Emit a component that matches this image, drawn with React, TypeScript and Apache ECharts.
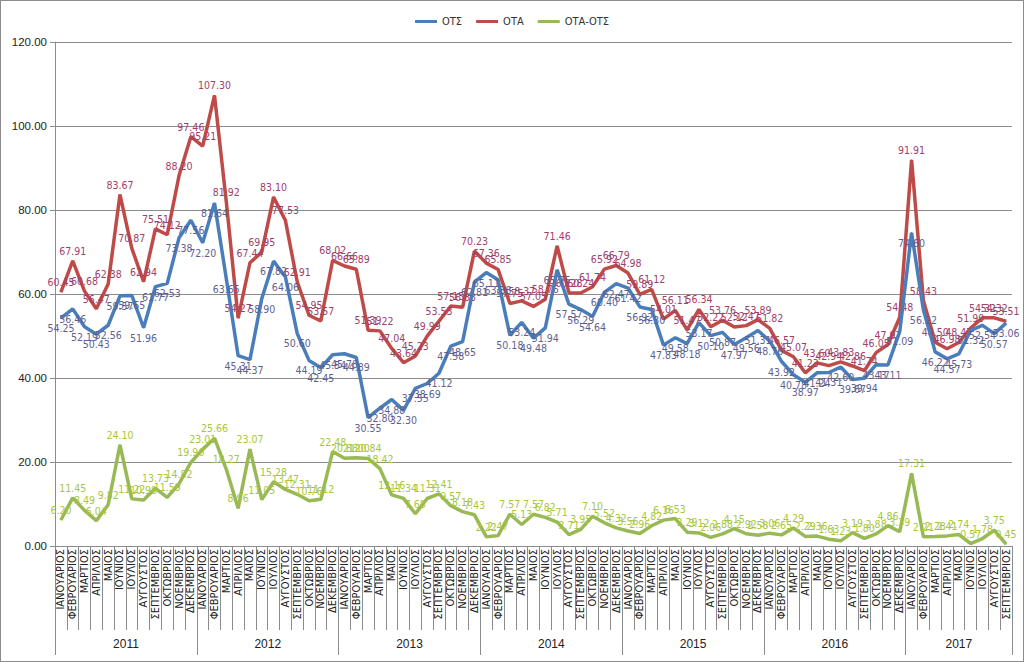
import React, { useEffect, useRef } from 'react';
import * as echarts from 'echarts';

const years = ['2011', '2012', '2013', '2014', '2015', '2016', '2017'];
const monthsPerYear = [12, 12, 12, 12, 12, 12, 9];
const monthNames = [
  'ΙΑΝΟΥΑΡΙΟΣ', 'ΦΕΒΡΟΥΑΡΙΟΣ', 'ΜΑΡΤΙΟΣ', 'ΑΠΡΙΛΙΟΣ', 'ΜΑΙΟΣ', 'ΙΟΥΝΙΟΣ',
  'ΙΟΥΛΙΟΣ', 'ΑΥΓΟΥΣΤΟΣ', 'ΣΕΠΤΕΜΒΡΙΟΣ', 'ΟΚΤΩΒΡΙΟΣ', 'ΝΟΕΜΒΡΙΟΣ', 'ΔΕΚΕΜΒΡΙΟΣ',
];

const seriesNames = ['ΟΤΣ', 'ΟΤΑ', 'ΟΤΑ-ΟΤΣ'];

const ots = [
  54.25, 56.46, 52.19, 50.43, 52.56, 59.57, 59.65, 51.96, 61.77, 62.53, 73.38, 77.56,
  72.20, 81.64, 63.65, 45.31, 44.37, 58.90, 67.82, 64.06, 50.60, 44.19, 42.45, 45.54,
  45.78, 44.89, 30.55, 32.80, 34.88, 32.30, 37.55, 38.69, 41.12, 47.58, 48.65, 62.81,
  65.11, 63.38, 50.18, 53.24, 49.48, 51.94, 65.75, 57.57, 56.29, 54.64, 60.40, 62.47,
  61.42, 56.92, 56.30, 47.83, 49.58, 48.18, 53.17, 50.10, 50.87, 47.97, 49.56, 51.31,
  48.76, 43.92, 40.78, 38.97, 41.24, 41.31, 42.60, 39.67, 39.94, 43.17, 43.11, 51.09,
  74.60, 56.22, 46.22, 44.57, 45.73, 51.32, 52.54, 50.57, 53.06,
];

const ota = [
  60.45, 67.91, 60.68, 56.47, 62.38, 83.67, 70.87, 62.94, 75.51, 74.12, 88.20, 97.46,
  95.21, 107.30, 81.92, 54.27, 67.44, 69.95, 83.10, 77.53, 62.91, 54.95, 53.57, 68.02,
  66.66, 65.89, 51.39, 51.22, 47.04, 43.64, 45.23, 49.99, 53.53, 57.15, 56.83, 70.23,
  67.36, 65.85, 57.75, 58.37, 57.05, 58.76, 71.46, 60.28, 60.24, 61.74, 65.92, 66.79,
  64.98, 59.89, 61.12, 54.01, 56.11, 51.47, 56.34, 52.22, 53.76, 52.12, 52.47, 53.89,
  51.82, 46.57, 45.07, 41.23, 43.60, 42.94, 43.83, 42.86, 41.74, 46.05, 47.97, 54.48,
  91.91, 58.43, 48.50, 46.98, 48.47, 51.90, 54.32, 54.32, 53.51,
];

const diff = [
  6.20, 11.45, 8.49, 6.04, 9.82, 24.10, 11.22, 10.98, 13.73, 11.59, 14.82, 19.90,
  23.01, 25.66, 18.27, 8.96, 23.07, 11.05, 15.28, 13.47, 12.31, 10.76, 11.12, 22.48,
  20.88, 21.00, 20.84, 18.42, 12.16, 11.34, 7.68, 11.31, 12.41, 9.57, 8.18, 7.43,
  2.22, 2.47, 7.57, 5.13, 7.57, 6.82, 5.71, 2.71, 3.95, 7.10, 5.52, 4.32,
  3.56, 2.96, 4.82, 6.16, 6.53, 3.29, 3.12, 2.06, 2.88, 4.15, 2.92, 2.58,
  3.06, 2.65, 4.29, 2.29, 2.36, 1.63, 1.23, 3.19, 1.80, 2.88, 4.86, 3.39,
  17.31, 2.21, 2.28, 2.41, 2.74, 0.57, 1.78, 3.75, 0.45,
];

const yMin = 0;
const yMax = 120;
const yInterval = 20;

const lineColors = ['#4a7ebb', '#be4b48', '#98b954'];
const labelColors = ['#5f5f8f', '#a0406a', '#a8c63a'];

const narrow = "'Liberation Sans Narrow', 'Arial Narrow', 'DejaVu Sans Condensed', sans-serif";
const sans = "'Liberation Sans', Arial, sans-serif";

export default function App() {
  const ref = useRef<HTMLDivElement>(null);

  useEffect(() => {
    if (!ref.current) return;
    const chart = echarts.init(ref.current, null, { renderer: 'svg' });

    const categories: string[] = [];
    const monthLabels: string[] = [];
    const yearStarts: number[] = [];
    const yearLabelAt: Record<number, { text: string; even: boolean }> = {};
    let idx = 0;
    years.forEach((y, yi) => {
      const n = monthsPerYear[yi];
      yearStarts.push(idx);
      for (let m = 0; m < n; m++) {
        categories.push(`${y}-${m + 1}`);
        monthLabels.push(monthNames[m]);
      }
      const center = idx + Math.floor((n - 1) / 2);
      yearLabelAt[center] = { text: y, even: n % 2 === 0 };
      idx += n;
    });
    const total = categories.length;

    const mkSeries = (name: string, data: number[], i: number, pos: 'top' | 'bottom') => ({
      name,
      type: 'line',
      data,
      symbol: 'circle',
      symbolSize: 1,
      showSymbol: true,
      lineStyle: { color: lineColors[i], width: 3.5 },
      itemStyle: { color: lineColors[i] },
      label: {
        show: true,
        position: pos,
        distance: 4,
        color: labelColors[i],
        fontFamily: narrow,
        fontSize: 10.5,
        formatter: (p: any) => Number(p.value).toFixed(2),
      },
      emphasis: { disabled: true },
      z: 3 - i,
    });

    chart.setOption({
      animation: false,
      backgroundColor: '#ffffff',
      legend: {
        top: 10,
        left: 'center',
        itemWidth: 22,
        itemHeight: 3,
        itemGap: 14,
        icon: 'rect',
        textStyle: { fontFamily: narrow, fontSize: 11, color: '#333' },
        data: seriesNames.map((n, i) => ({ name: n, itemStyle: { color: lineColors[i] } })),
      },
      grid: {
        left: 54,
        right: 11,
        top: 41,
        bottom: 115,
        outerBoundsMode: 'none',
      },
      xAxis: [
        {
          type: 'category',
          data: categories,
          boundaryGap: true,
          axisLine: { show: true, lineStyle: { color: '#8c8c8c', width: 1 } },
          axisTick: { show: true, interval: 0, length: 84, lineStyle: { color: '#8c8c8c' } },
          axisLabel: {
            interval: 0,
            rotate: 90,
            margin: 3,
            fontFamily: narrow,
            fontSize: 11,
            color: '#222',
            formatter: (_v: string, i: number) => monthLabels[i],
          },
        },
        {
          type: 'category',
          data: categories,
          position: 'bottom',
          offset: 0,
          boundaryGap: true,
          axisLine: { show: false },
          axisTick: {
            show: true,
            length: 109,
            lineStyle: { color: '#8c8c8c' },
            interval: (i: number) => yearStarts.includes(i) || i === total,
          },
          axisLabel: {
            show: true,
            margin: 92,
            fontFamily: sans,
            fontSize: 12,
            color: '#222',
            interval: (i: number) => yearLabelAt[i] !== undefined,
            formatter: (_v: string, i: number) => {
              const y = yearLabelAt[i];
              if (!y) return '';
              return y.even ? `{e|${y.text}}` : `{o|${y.text}}`;
            },
            rich: {
              e: { fontFamily: sans, fontSize: 12, color: '#222', padding: [0, 0, 0, 12] },
              o: { fontFamily: sans, fontSize: 12, color: '#222' },
            },
          },
          splitLine: { show: false },
        },
      ],
      yAxis: {
        type: 'value',
        min: yMin,
        max: yMax,
        interval: yInterval,
        axisLine: { show: true, lineStyle: { color: '#8c8c8c' } },
        axisTick: { show: true, length: 5, lineStyle: { color: '#8c8c8c' } },
        axisLabel: {
          margin: 8,
          fontFamily: sans,
          fontSize: 11.5,
          color: '#222',
          formatter: (v: number) => v.toFixed(2),
        },
        splitLine: { show: true, lineStyle: { color: '#8c8c8c', width: 1 } },
      },
      series: [
        mkSeries(seriesNames[0], ots, 0, 'bottom'),
        mkSeries(seriesNames[1], ota, 1, 'top'),
        mkSeries(seriesNames[2], diff, 2, 'top'),
      ],
    });

    return () => chart.dispose();
  }, []);

  return (
    <div
      ref={ref}
      style={{
        position: 'absolute',
        left: 0,
        top: 0,
        width: 1024,
        height: 662,
        boxSizing: 'border-box',
        border: '1px solid #8c8c8c',
        background: '#fff',
      }}
    />
  );
}
